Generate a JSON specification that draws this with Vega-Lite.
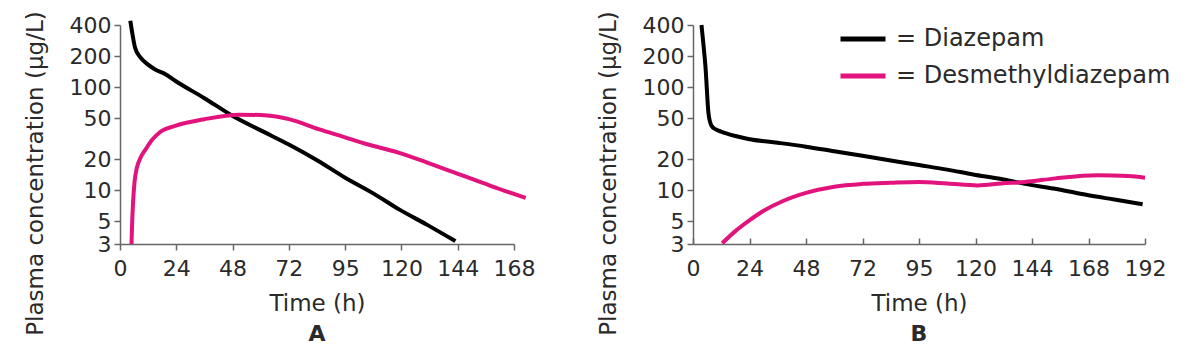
{
  "$schema": "https://vega.github.io/schema/vega-lite/v6.json",
  "background": "white",
  "padding": {"left": 24, "top": 10, "right": 5, "bottom": 5},
  "bounds": "flush",
  "spacing": 179,
  "config": {
    "view": {"stroke": null},
    "font": "DejaVu Sans",
    "axis": {
      "grid": false,
      "domainColor": "#666666",
      "domainWidth": 1.5,
      "tickColor": "#666666",
      "tickWidth": 1.5,
      "tickSize": 6,
      "labelFont": "DejaVu Sans",
      "labelFontSize": 22,
      "labelColor": "#2a2a2a",
      "titleFont": "DejaVu Sans",
      "titleFontSize": 23,
      "titleFontWeight": "normal",
      "titleColor": "#2a2a2a"
    }
  },
  "datasets": {
    "A": [
      {"drug": "Diazepam", "t": 4.4, "c": 440},
      {"drug": "Diazepam", "t": 5.3, "c": 327},
      {"drug": "Diazepam", "t": 6.4, "c": 242},
      {"drug": "Diazepam", "t": 8.7, "c": 194},
      {"drug": "Diazepam", "t": 11.7, "c": 167},
      {"drug": "Diazepam", "t": 14.8, "c": 149},
      {"drug": "Diazepam", "t": 19.4, "c": 133},
      {"drug": "Diazepam", "t": 23.5, "c": 115},
      {"drug": "Diazepam", "t": 36, "c": 78},
      {"drug": "Diazepam", "t": 47.7, "c": 53},
      {"drug": "Diazepam", "t": 60, "c": 38},
      {"drug": "Diazepam", "t": 72, "c": 27.7},
      {"drug": "Diazepam", "t": 84, "c": 19.5},
      {"drug": "Diazepam", "t": 96, "c": 13.2},
      {"drug": "Diazepam", "t": 108, "c": 9.3},
      {"drug": "Diazepam", "t": 119, "c": 6.5},
      {"drug": "Diazepam", "t": 131, "c": 4.6},
      {"drug": "Diazepam", "t": 143, "c": 3.2},
      {"drug": "Desmethyldiazepam", "t": 4.9, "c": 3},
      {"drug": "Desmethyldiazepam", "t": 5.2, "c": 5},
      {"drug": "Desmethyldiazepam", "t": 5.6, "c": 7.8},
      {"drug": "Desmethyldiazepam", "t": 6.2, "c": 12},
      {"drug": "Desmethyldiazepam", "t": 7.2, "c": 16.5},
      {"drug": "Desmethyldiazepam", "t": 8.7, "c": 20.5},
      {"drug": "Desmethyldiazepam", "t": 11, "c": 25},
      {"drug": "Desmethyldiazepam", "t": 13.3, "c": 30},
      {"drug": "Desmethyldiazepam", "t": 15.5, "c": 34},
      {"drug": "Desmethyldiazepam", "t": 17.8, "c": 37.5},
      {"drug": "Desmethyldiazepam", "t": 23.5, "c": 42},
      {"drug": "Desmethyldiazepam", "t": 36, "c": 48.8},
      {"drug": "Desmethyldiazepam", "t": 51, "c": 54},
      {"drug": "Desmethyldiazepam", "t": 60, "c": 53.5},
      {"drug": "Desmethyldiazepam", "t": 72, "c": 48.8},
      {"drug": "Desmethyldiazepam", "t": 85, "c": 38.8},
      {"drug": "Desmethyldiazepam", "t": 95, "c": 33},
      {"drug": "Desmethyldiazepam", "t": 105, "c": 28},
      {"drug": "Desmethyldiazepam", "t": 119, "c": 23},
      {"drug": "Desmethyldiazepam", "t": 131, "c": 18.5},
      {"drug": "Desmethyldiazepam", "t": 143, "c": 14.7},
      {"drug": "Desmethyldiazepam", "t": 158, "c": 11},
      {"drug": "Desmethyldiazepam", "t": 173, "c": 8.4}
    ],
    "B": [
      {"drug": "Diazepam", "t": 3.6, "c": 400},
      {"drug": "Diazepam", "t": 4.5, "c": 250},
      {"drug": "Diazepam", "t": 5.3, "c": 157},
      {"drug": "Diazepam", "t": 6.6, "c": 55},
      {"drug": "Diazepam", "t": 7.8, "c": 42.4},
      {"drug": "Diazepam", "t": 9.5, "c": 39},
      {"drug": "Diazepam", "t": 11.9, "c": 37},
      {"drug": "Diazepam", "t": 18, "c": 33.5},
      {"drug": "Diazepam", "t": 23.5, "c": 31.3},
      {"drug": "Diazepam", "t": 36, "c": 28.8},
      {"drug": "Diazepam", "t": 48, "c": 26.4},
      {"drug": "Diazepam", "t": 60, "c": 23.8},
      {"drug": "Diazepam", "t": 72, "c": 21.5},
      {"drug": "Diazepam", "t": 84, "c": 19.4},
      {"drug": "Diazepam", "t": 96, "c": 17.5},
      {"drug": "Diazepam", "t": 108, "c": 15.8},
      {"drug": "Diazepam", "t": 119, "c": 14.2},
      {"drug": "Diazepam", "t": 131, "c": 12.8},
      {"drug": "Diazepam", "t": 141, "c": 11.5},
      {"drug": "Diazepam", "t": 155, "c": 10.2},
      {"drug": "Diazepam", "t": 167, "c": 9},
      {"drug": "Diazepam", "t": 179, "c": 8.1},
      {"drug": "Diazepam", "t": 191, "c": 7.3},
      {"drug": "Desmethyldiazepam", "t": 12.4, "c": 3.05},
      {"drug": "Desmethyldiazepam", "t": 18, "c": 4},
      {"drug": "Desmethyldiazepam", "t": 23.5, "c": 5},
      {"drug": "Desmethyldiazepam", "t": 30, "c": 6.3},
      {"drug": "Desmethyldiazepam", "t": 38, "c": 7.8},
      {"drug": "Desmethyldiazepam", "t": 48, "c": 9.4},
      {"drug": "Desmethyldiazepam", "t": 60, "c": 10.8},
      {"drug": "Desmethyldiazepam", "t": 72, "c": 11.5},
      {"drug": "Desmethyldiazepam", "t": 84, "c": 11.8},
      {"drug": "Desmethyldiazepam", "t": 96, "c": 12},
      {"drug": "Desmethyldiazepam", "t": 108, "c": 11.6},
      {"drug": "Desmethyldiazepam", "t": 121, "c": 11.1},
      {"drug": "Desmethyldiazepam", "t": 131, "c": 11.6},
      {"drug": "Desmethyldiazepam", "t": 141, "c": 12},
      {"drug": "Desmethyldiazepam", "t": 154, "c": 13},
      {"drug": "Desmethyldiazepam", "t": 172, "c": 13.9},
      {"drug": "Desmethyldiazepam", "t": 185, "c": 13.7},
      {"drug": "Desmethyldiazepam", "t": 192, "c": 13.2}
    ]
  },
  "resolve": {"scale": {"color": "independent"}, "legend": {"color": "independent"}},
  "hconcat": [
    {
      "width": 394,
      "height": 219,
      "data": {"name": "A"},
      "title": {"text": "A", "orient": "bottom", "anchor": "middle", "frame": "group", "fontSize": 22, "fontWeight": "bold", "font": "DejaVu Sans", "color": "#2a2a2a", "offset": -11},
      "mark": {"type": "line", "strokeWidth": 4, "interpolate": "monotone", "clip": false},
      "encoding": {
        "x": {"field": "t", "type": "quantitative", "scale": {"domain": [0, 168], "nice": false, "zero": false},
          "axis": {"values": [0, 24, 48, 72, 96, 120, 144, 168], "labelExpr": "datum.value == 96 ? '95' : datum.label", "title": "Time (h)", "labelPadding": 8, "titlePadding": 13, "labelFlush": false}},
        "y": {"field": "c", "type": "quantitative", "scale": {"type": "log", "domain": [3, 400], "nice": false},
          "axis": {"values": [3, 5, 10, 20, 50, 100, 200, 400], "format": "d", "title": "Plasma concentration (μg/L)", "labelPadding": 3, "titlePadding": 22, "titleY": 148}},
        "color": {"field": "drug", "type": "nominal", "scale": {"domain": ["Diazepam", "Desmethyldiazepam"], "range": ["#000000", "#e2137d"]}, "legend": null},
        "detail": {"field": "drug"}
      }
    },
    {
      "width": 452,
      "height": 219,
      "data": {"name": "B"},
      "title": {"text": "B", "orient": "bottom", "anchor": "middle", "frame": "group", "fontSize": 22, "fontWeight": "bold", "font": "DejaVu Sans", "color": "#2a2a2a", "offset": -11},
      "mark": {"type": "line", "strokeWidth": 4, "interpolate": "monotone", "clip": false},
      "encoding": {
        "x": {"field": "t", "type": "quantitative", "scale": {"domain": [0, 192], "nice": false, "zero": false},
          "axis": {"values": [0, 24, 48, 72, 96, 120, 144, 168, 192], "labelExpr": "datum.value == 96 ? '95' : datum.label", "title": "Time (h)", "tickSize": -6, "labelPadding": 20, "titlePadding": 13, "labelFlush": false}},
        "y": {"field": "c", "type": "quantitative", "scale": {"type": "log", "domain": [3, 400], "nice": false},
          "axis": {"values": [3, 5, 10, 20, 50, 100, 200, 400], "format": "d", "title": "Plasma concentration (μg/L)", "labelPadding": 3, "titlePadding": 22, "titleY": 148}},
        "color": {"field": "drug", "type": "nominal", "scale": {"domain": ["Diazepam", "Desmethyldiazepam"], "range": ["#000000", "#e2137d"]},
          "legend": {"title": null, "orient": "none", "legendX": 145, "legendY": -11, "symbolType": "stroke", "symbolSize": 2025, "symbolStrokeWidth": 5, "labelFontSize": 24, "labelFont": "DejaVu Sans", "labelColor": "#2a2a2a", "labelExpr": "'= ' + datum.label", "labelOffset": 8, "rowPadding": -14, "padding": 0, "labelLimit": 400}},
        "detail": {"field": "drug"}
      }
    }
  ]
}
